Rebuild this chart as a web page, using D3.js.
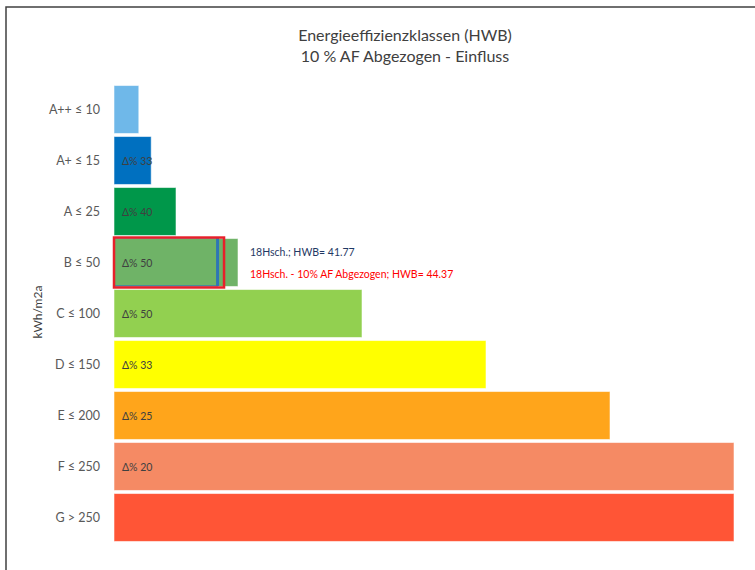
<!DOCTYPE html>
<html><head><meta charset="utf-8">
<script src="https://cdn.jsdelivr.net/npm/d3@7"></script>
<style>body{margin:0;background:#fff;} text{font-family:Lato,"Open Sans",sans-serif;}</style>
</head><body><svg id="c" width="755" height="570"></svg>
<script>
const categories = ["A++ ≤ 10","A+ ≤ 15","A ≤ 25","B ≤ 50","C ≤ 100","D ≤ 150","E ≤ 200","F ≤ 250","G > 250"];
const values = [10,15,25,50,100,150,200,250,250];
const deltas = ["","33","40","50","50","33","25","20",""];
const colors = ["#6fb8e9","#0070c0","#00974a","#6fb367","#92d050","#ffff00","#ffa51b","#f58a64","#ff5536"];
const hwbLabels = ["18Hsch.; HWB= 41.77","18Hsch. - 10% AF Abgezogen; HWB= 44.37"];
const hwbValues = [41.77, 44.37];
const hwbClass = "B ≤ 50";

const svg = d3.select("#c");
svg.append("path").attr("d","M6,570V7H755").attr("fill","none").attr("stroke","#404040").attr("stroke-width",1.5);

const x = d3.scaleLinear().domain([0,250]).range([114,734]);
const y = d3.scaleBand().domain(categories).range([84,543]).paddingInner(0.06).paddingOuter(0.03);

svg.append("text").attr("x",405).attr("y",41).attr("text-anchor","middle").attr("font-size",16).attr("fill","#404040").text("Energieeffizienzklassen (HWB)");
svg.append("text").attr("x",405).attr("y",62).attr("text-anchor","middle").attr("font-size",16).attr("fill","#404040").text("10 % AF Abgezogen - Einfluss");

svg.append("text").attr("transform","translate(42,312) rotate(-90)").attr("text-anchor","middle").attr("font-size",12).attr("fill","#404040").text("kWh/m2a");

const yAxis = d3.axisLeft(y).tickSize(0).tickPadding(14);
const ga = svg.append("g").attr("transform","translate(114,0)").call(yAxis);
ga.select(".domain").remove();
ga.selectAll("text").attr("font-size",12.5).attr("fill","#595959").style("font-family","Lato,'Open Sans',sans-serif");

svg.selectAll("rect.bar").data(values).join("rect").attr("class","bar")
  .attr("x",x(0)).attr("y",(d,i)=>y(categories[i]))
  .attr("width",d=>x(d)-x(0)).attr("height",y.bandwidth())
  .attr("fill",(d,i)=>colors[i]).attr("stroke","rgba(255,255,255,0.55)").attr("stroke-width",1);

svg.selectAll("text.dl").data(deltas).join("text").attr("class","dl")
  .attr("x",x(0)+8).attr("y",(d,i)=>y(categories[i])+y.bandwidth()/2+4)
  .attr("font-size",10.5).attr("fill","#404040").text(d=>d?"Δ% "+d:"");

const by = y(hwbClass), bh = y.bandwidth();
svg.append("rect").attr("x",x(0)).attr("y",by-0.5).attr("width",x(hwbValues[0])-x(0)).attr("height",bh)
  .attr("fill","none").attr("stroke","#2e75b6").attr("stroke-width",1.2);
svg.append("line").attr("x1",x(hwbValues[0])).attr("x2",x(hwbValues[0])).attr("y1",by-0.5).attr("y2",by+bh-0.5)
  .attr("stroke","#2e75b6").attr("stroke-width",3);
svg.append("rect").attr("x",x(0)).attr("y",by-1).attr("width",x(hwbValues[1])-x(0)).attr("height",bh+2)
  .attr("fill","none").attr("stroke","#e8202a").attr("stroke-width",2.5);

svg.append("text").attr("x",250).attr("y",256).attr("font-size",10.5).attr("fill","#1f3864").text(hwbLabels[0]);
svg.append("text").attr("x",250).attr("y",278).attr("font-size",10.5).attr("fill","#ff0000").text(hwbLabels[1]);
</script></body></html>
